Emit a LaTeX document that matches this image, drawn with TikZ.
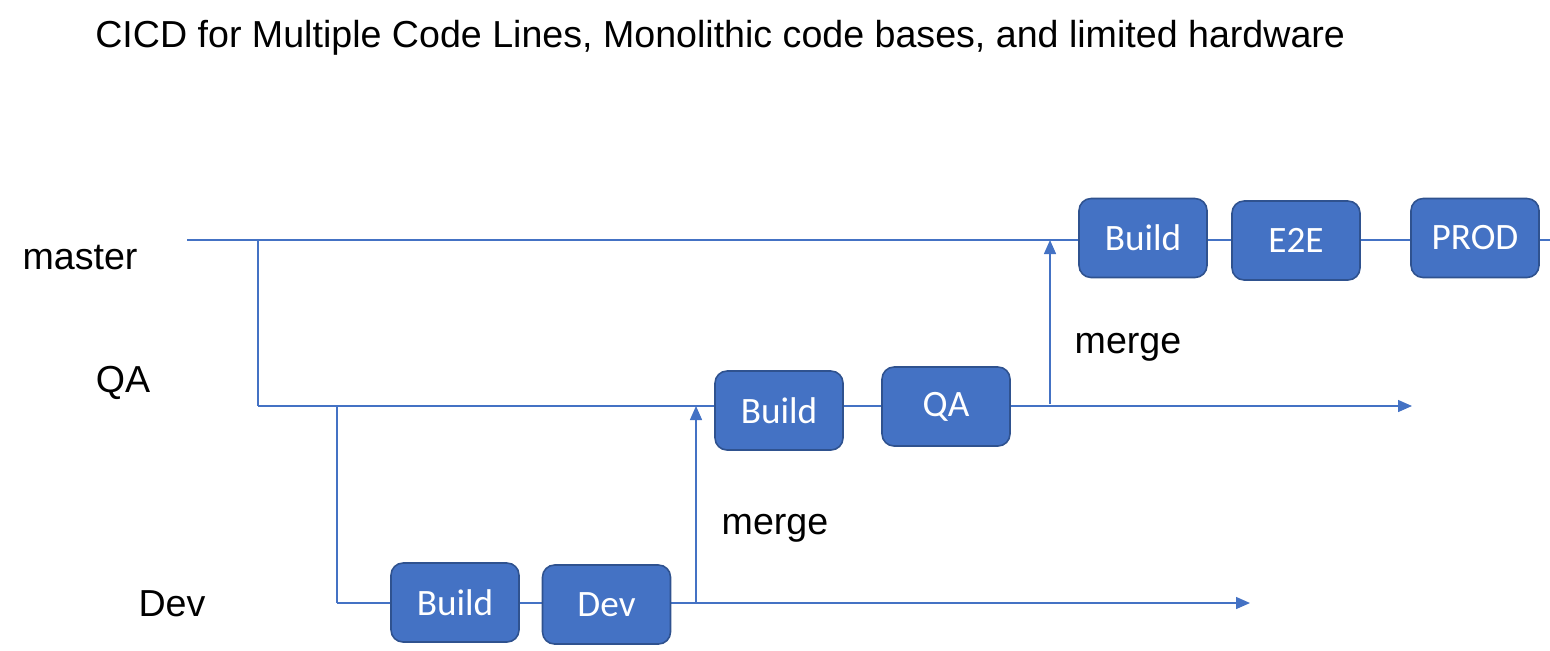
\documentclass[tikz,border=0pt]{standalone}
\usepackage{fontspec}
\setmainfont{Liberation Sans}
\newfontfamily\boxfont{Carlito}
\usepackage{tikz}
\usetikzlibrary{arrows.meta}
\definecolor{boxblue}{HTML}{4472C4}
\definecolor{boxedge}{HTML}{2F528F}
\definecolor{lineblue}{HTML}{4472C4}

\tikzset{
  stage/.style={draw=boxedge, fill=boxblue, line width=0.9pt, rounded corners=0.24cm,
    minimum width=2.56cm, minimum height=1.58cm, text=white,
    font=\boxfont\fontsize{21.2}{25}\selectfont},
  branch/.style={draw=lineblue, line width=0.8pt},
  flow/.style={branch, -{Triangle[length=0.28cm,width=0.24cm]}},
  lbl/.style={font=\fontsize{21.4}{26}\selectfont, inner sep=0pt}
}

\begin{document}
\begin{tikzpicture}[x=0.02cm, y=-0.02cm]
    \useasboundingbox (0,0) rectangle (1550,650);
    \node[lbl, anchor=west] (title) at (95,38)
      {CICD for Multiple Code Lines, Monolithic code bases, and limited hardware};
    \node[lbl] (lmaster) at (80,258) {master};
    \node[lbl] (lqa) at (123,383) {QA};
    \node[lbl] (ldev) at (172,604) {Dev};
    \node[lbl] (lmerge1) at (775,528) {merge};
    \node[lbl] (lmerge2) at (1128,347) {merge};

    % code lines
    \coordinate (mstart) at (187,240);
    \coordinate (mend) at (1550,240);
    \coordinate (mfork) at (258,240);
    \coordinate (qstart) at (258,406);
    \coordinate (qend) at (1412,406);
    \coordinate (qfork) at (337,406);
    \coordinate (dstart) at (337,603);
    \coordinate (dend) at (1250,603);
    \coordinate (dmerge) at (696,603);
    \coordinate (qin) at (696,406);
    \coordinate (qmerge) at (1050,404);
    \coordinate (min) at (1050,240);
    \draw[branch] (mstart) -- (mend);
    \draw[branch] (mfork) -- (qstart);
    \draw[flow] (qstart) -- (qend);
    \draw[branch] (qfork) -- (dstart);
    \draw[flow] (dstart) -- (dend);
    \draw[flow] (dmerge) -- (qin);
    \draw[flow] (qmerge) -- (min);

    % stages
    \node[stage] (mbuild) at (1143,238) {Build};
    \node[stage] (e2e) at (1296,240.5) {E2E};
    \node[stage] (prod) at (1475,238) {PROD};
    \node[stage] (qbuild) at (779,410.5) {Build};
    \node[stage] (qa) at (946,406.5) {QA};
    \node[stage] (dbuild) at (455,602.5) {Build};
    \node[stage] (dev) at (606.5,604.5) {Dev};
\end{tikzpicture}
\end{document}
